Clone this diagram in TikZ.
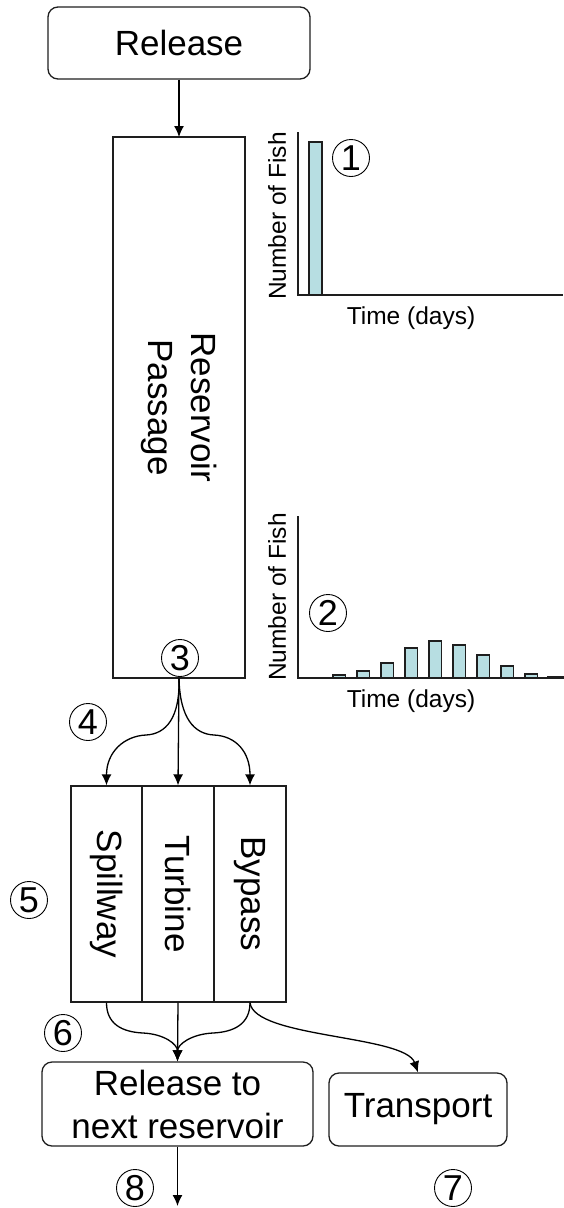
\documentclass[tikz,border=0pt]{standalone}
\usepackage{fontspec}
\setmainfont{Liberation Sans}
\usetikzlibrary{arrows.meta}
\definecolor{barfill}{RGB}{183,222,226}
\definecolor{lineclr}{RGB}{30,30,30}
\begin{document}
\begin{tikzpicture}[x=1pt,y=-1pt,
  box/.style={draw=lineclr,line width=1.3pt,inner sep=0pt},
  rbox/.style={box,rounded corners=10pt},
  big/.style={font=\fontsize{35}{43}\selectfont,align=center,inner sep=0pt},
  small/.style={font=\fontsize{24.5}{28}\selectfont,inner sep=0pt},
  num/.style={circle,draw=black,line width=0.9pt,minimum size=37pt,inner sep=0pt,font=\fontsize{36}{36}\selectfont},
  conn/.style={draw=black,line width=1.3pt,-{Latex[length=11pt,width=10pt]}},
  axis/.style={draw=lineclr,line width=1.4pt},
  bar/.style={draw=lineclr,fill=barfill,line width=1.2pt}
]
\useasboundingbox (0,0) rectangle (564,1208);

% boxes
\node[rbox,minimum width=262pt,minimum height=72pt] (rel) at (179,43) {};
\node[big] at (rel.center) {Release};
\node[box,minimum width=132pt,minimum height=541pt] (res) at (179,407.5) {};
\node[big,rotate=-90] (restext) at (res.center) {Reservoir\\Passage};

\node[box,minimum width=71pt,minimum height=216pt] (spill) at (106.5,894) {};
\node[box,minimum width=72pt,minimum height=216pt] (turb) at (178,894) {};
\node[box,minimum width=72pt,minimum height=216pt] (byp) at (250,894) {};
\node[big,rotate=-90] at (spill.center) {Spillway};
\node[big,rotate=-90] at (turb.center) {Turbine};
\node[big,rotate=-90] at (byp.center) {Bypass};

\node[rbox,minimum width=271pt,minimum height=84pt] (next) at (177.5,1104) {};
\node[big] at (next.center) {Release to\\next reservoir};
\node[rbox,minimum width=178pt,minimum height=73pt] (trans) at (418,1109.5) {};
\node[big] at (trans.center) {Transport};

\coordinate (split) at (res.south);
\coordinate (out) at (177.5,1206);

% connectors
\draw[conn] (rel.south) -- (179,137);
\draw[conn] (split) .. controls (180,718) and (166,734) .. (146,735)
  .. controls (124,736) and (106.5,752) .. (spill.north);
\draw[conn] (split) -- (turb.north);
\draw[conn] (split) .. controls (180,718) and (194,734) .. (214,735)
  .. controls (236,736) and (250,752) .. (byp.north);

\draw[conn] (spill.south) .. controls (106.5,1024) and (122,1032) .. (143,1033)
  .. controls (164,1034) and (177.5,1044) .. (next.north);
\draw[conn] (turb.south) -- (next.north);
\draw[conn] (byp.south) .. controls (250,1024) and (234,1032) .. (213,1033)
  .. controls (192,1034) and (177.5,1044) .. (next.north);
\draw[conn] (byp.south) .. controls (254,1038) and (405,1035) .. (trans.north);
\draw[conn] (next.south) -- (out);

% chart 1
\draw[axis] (298,132) -- (298,295) -- (563,295);
\draw[bar] (309,142) rectangle (322,295);
\node[small,rotate=90] (nf1) at (277,216) {Number of Fish};
\node[small] (t1) at (411,318) {Time (days)};

% chart 2
\draw[axis] (298,516) -- (298,678) -- (563,678);
\foreach \x/\t in {333/675,357/671,381/663,405/648,429/641,453/645,477/655,501/666,525/674}
  \draw[bar] (\x,\t) rectangle (\x+12.5,678);
\draw[bar] (548,676.5) rectangle (563,678);
\node[small,rotate=90] (nf2) at (277,597) {Number of Fish};
\node[small] (t2) at (411,701) {Time (days)};

% circled numbers
\node[num] (n1) at (351,158) {1};
\node[num] (n2) at (328,613) {2};
\node[num] (n3) at (180,658) {3};
\node[num] (n4) at (88,722) {4};
\node[num] (n5) at (29,900) {5};
\node[num] (n6) at (63,1033) {6};
\node[num] (n7) at (453,1188) {7};
\node[num] (n8) at (135,1188) {8};
\end{tikzpicture}
\end{document}
